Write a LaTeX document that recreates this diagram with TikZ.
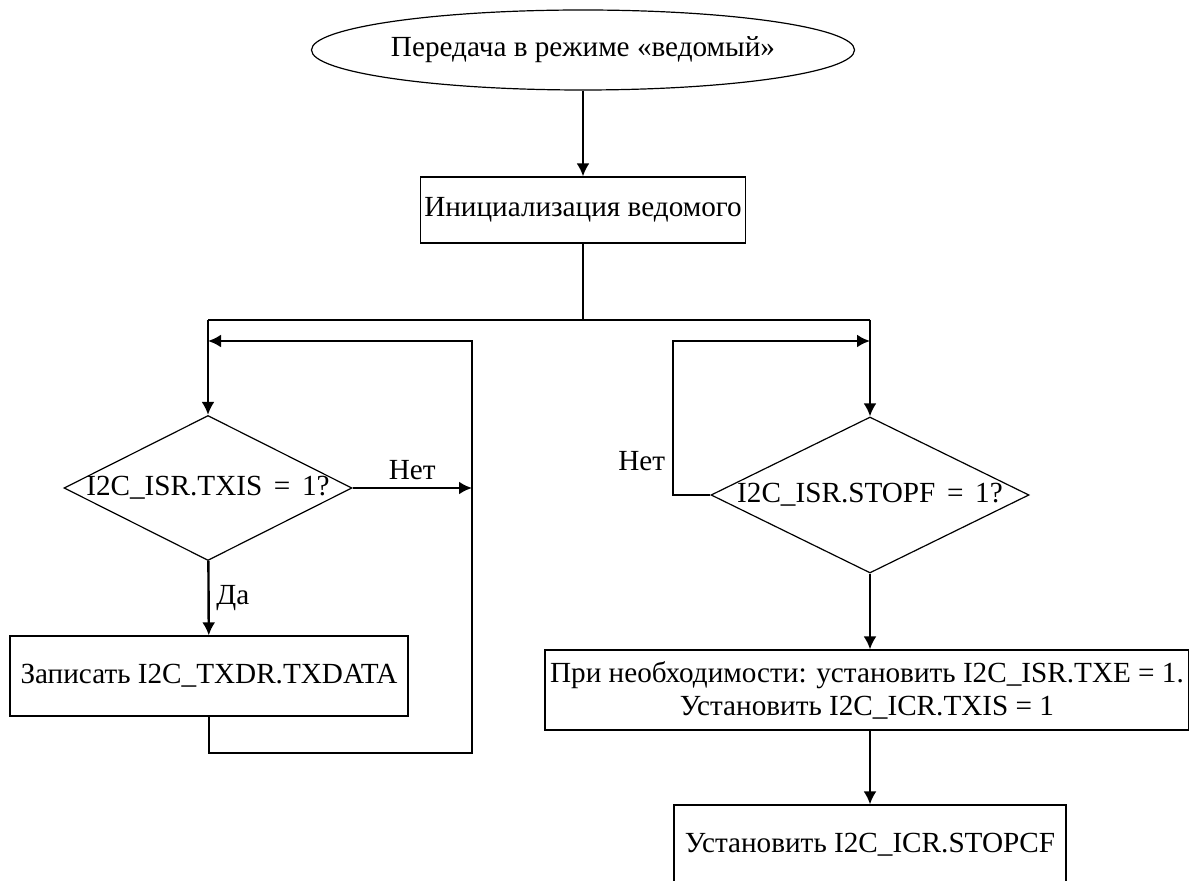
\documentclass[tikz,border=0pt]{standalone}
\usepackage{fontspec}
\setmainfont{Liberation Serif}
\usetikzlibrary{shapes.geometric,arrows.meta}

\begin{document}
\begin{tikzpicture}[x=0.5pt,y=-0.5pt,
    font=\fontsize{14.6}{16.5}\selectfont,
    block/.style={draw, line width=0.6pt, align=center, inner sep=0pt},
    decision/.style={draw, diamond, line width=0.6pt, inner sep=0pt},
    terminal/.style={draw, ellipse, line width=0.6pt, inner sep=0pt},
    conn/.style={line width=1.2pt, -{Latex[length=6.5pt,width=6.5pt]}},
    wire/.style={line width=1.2pt}]

        \useasboundingbox (0,0) rectangle (1189,881);
        \clip (0,0) rectangle (1189,881);

        % shapes
        \node[terminal, minimum width=270pt, minimum height=40pt] (1) at (583,50) {Передача в режиме «ведомый»};
        \node[block, minimum width=162.5pt, minimum height=33pt] (2) at (583,210) {Инициализация ведомого};
        \node[decision, minimum width=144pt, minimum height=72.5pt] (3) at (208,488) {};
        \node (3t) at (3) {I2C\_ISR.TXIS\hspace{0.4em}=\hspace{0.4em}1?};
        \node[block, minimum width=199pt, minimum height=40pt] (4) at (209,676) {Записать I2C\_TXDR.TXDATA};
        \node[decision, minimum width=159pt, minimum height=78pt] (5) at (870,495) {};
        \node (5t) at (5) {I2C\_ISR.STOPF\hspace{0.4em}=\hspace{0.4em}1?};
        \node[block, minimum width=322pt, minimum height=40pt] (6) at (867,690) {При необходимости: установить I2C\_ISR.TXE = 1.\\Установить I2C\_ICR.TXIS = 1};
        \node[block, minimum width=196pt, minimum height=40pt] (7) at (870,845) {Установить I2C\_ICR.STOPCF};

        % branch points
        \coordinate (s)  at (583,320);
        \coordinate (l)  at (208,320);
        \coordinate (r)  at (870,320);
        \coordinate (lj) at (208,341);
        \coordinate (lr) at (472,341);
        \coordinate (lo) at (472,488);
        \coordinate (lb) at (472,753);
        \coordinate (rj) at (870,341);
        \coordinate (rl) at (673,341);

        \draw[conn] (1) -- (2);
        \draw[wire] (2) -- (s);
        \draw[wire] (l) -- (r);
        \draw[conn] (l) -- (3);
        \draw[conn] (r) -- (5);

        % left loop
        \draw[conn] (3.east) -- node[above] {Нет} (lo);
        \draw[conn] (3) -- node[right] {Да} (4);
        \draw[conn] (4.south) |- (lb) -- (lr) -- (lj);

        % right loop
        \draw[conn] (5.west) -| node[pos=0.61, left] {Нет} (rl) -- (rj);
        \draw[conn] (5.south) -- (5.south |- 6.north);
        \draw[conn] (7.north |- 6.south) -- (7);

      \end{tikzpicture}
\end{document}
